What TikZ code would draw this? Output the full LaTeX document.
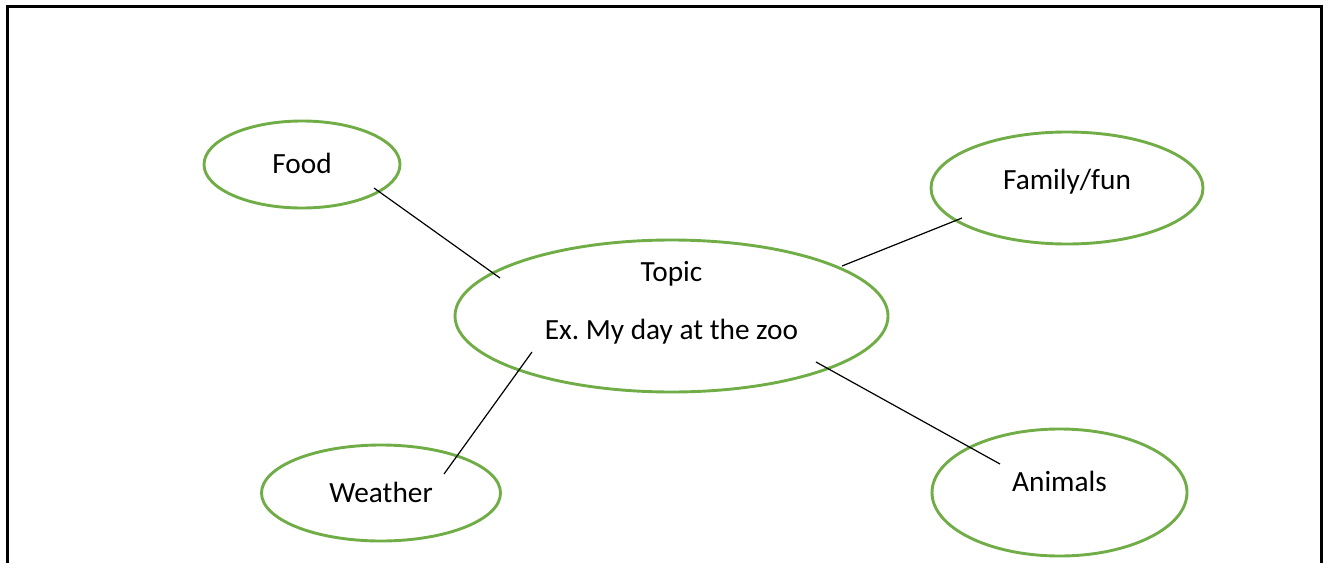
\documentclass[tikz,border=0pt]{standalone}
\usepackage{fontspec}
\setmainfont{Carlito}
\usepackage{tikz}
\usetikzlibrary{positioning,shapes.geometric}
\definecolor{bubble_green}{RGB}{112,173,71}
\tikzset{bubble/.style={draw=bubble_green, line width=2.9pt, ellipse, inner sep=0pt},
  spoke/.style={draw=black, line width=1.2pt}}

\begin{document}
\begin{tikzpicture}[x=1pt,y=-1pt,font=\fontsize{29.3}{35}\selectfont]
\useasboundingbox (0,0) rectangle (1330,562);
\draw[line width=3pt] (7.5,566) -- (7.5,6.5) -- (1321,6.5) -- (1321,566);
\node[bubble, minimum width=433pt, minimum height=152pt,
  label={[anchor=base,yshift=42pt]center:Topic},
  label={[anchor=base,yshift=-16pt]center:Ex.\ My day at the zoo}] (node_topic) at (671.5,316) {};
\node[bubble, minimum width=196pt, minimum height=87pt,
  label={[anchor=base,yshift=1pt]center:Food}] (node_food) at (302,164.5) {};
\node[bubble, minimum width=272pt, minimum height=112pt,
  label={[anchor=base,yshift=6.5pt]center:Family/fun}] (node_family) at (1067,188) {};
\node[bubble, minimum width=239pt, minimum height=96pt,
  label={[anchor=base,yshift=0.5pt]center:Weather}] (node_weather) at (381,493) {};
\node[bubble, minimum width=255pt, minimum height=127pt,
  label={[anchor=base,yshift=11pt]center:Animals}] (node_animals) at (1059.5,492.5) {};
\coordinate (food_tip) at (374,188);
\coordinate (topic_nw) at (500,278);
\coordinate (family_tip) at (962,218);
\coordinate (topic_ne) at (842,266);
\coordinate (weather_tip) at (444,474);
\coordinate (topic_sw) at (532,352);
\coordinate (animals_tip) at (1000,464);
\coordinate (topic_se) at (816,362);
\draw[spoke] (food_tip) -- (topic_nw);
\draw[spoke] (family_tip) -- (topic_ne);
\draw[spoke] (weather_tip) -- (topic_sw);
\draw[spoke] (animals_tip) -- (topic_se);
\end{tikzpicture}
\end{document}
